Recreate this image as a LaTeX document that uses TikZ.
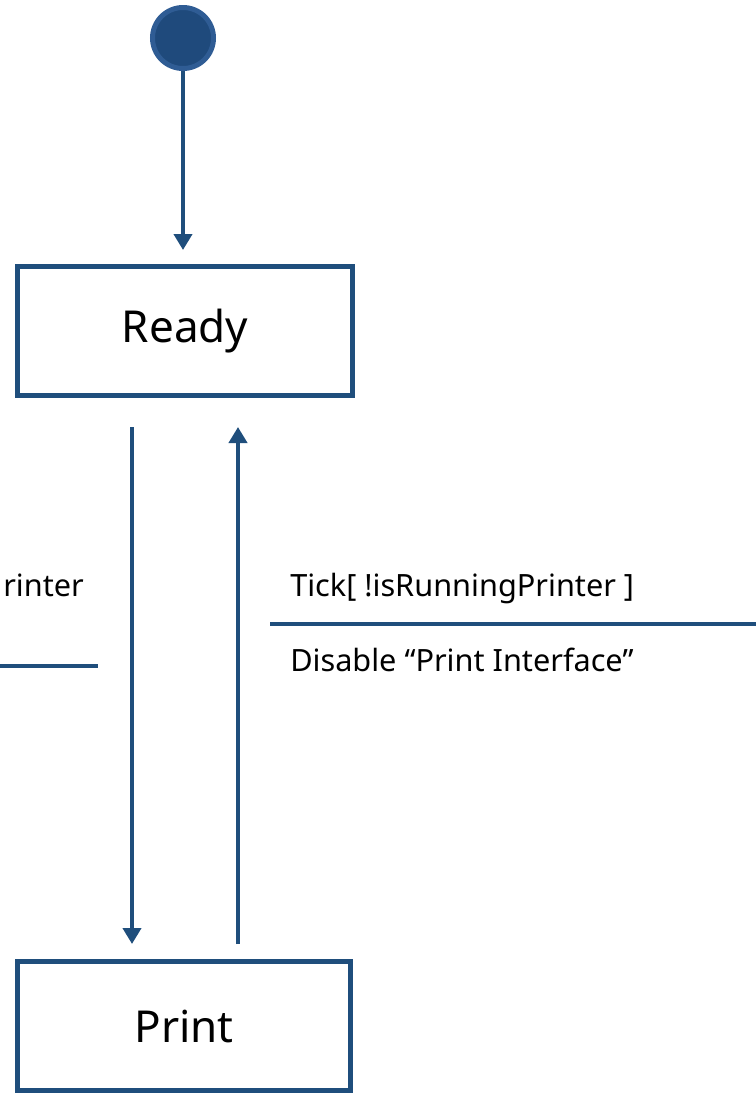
\documentclass[tikz,border=0pt]{standalone}
\usepackage{fontspec}
\setmainfont{Noto Sans}
\usetikzlibrary{arrows.meta}
\definecolor{umlblue}{RGB}{31,78,124}
\definecolor{umlfill}{RGB}{31,74,124}
\definecolor{umlring}{RGB}{47,92,148}

\begin{document}
\begin{tikzpicture}[x=0.75pt, y=-0.75pt,
    every node/.style={font=\fontsize{23}{28}\selectfont, inner sep=0pt},
    state/.style={draw=umlblue, line width=3.5pt, minimum width=251pt, minimum height=97pt, font=\fontsize{33}{40}\selectfont},
    trans/.style={umlblue, line width=3.2pt, -{Triangle[width=13.5pt,length=12pt]}},
    guard/.style={umlblue, line width=3.2pt}]
  \useasboundingbox (0,0) rectangle (756,1093);

  % Initial state and the two states
  \node[circle, fill=umlfill, draw=umlring, line width=3.75pt, minimum size=45.75pt] (init) at (183,38) {};
  \node[state] (ready) at (185,331) {Ready};
  \node[state, minimum width=249.5pt] (print) at (184,1026) {Print};

  % Transitions
  \draw[trans, shorten >=10.5pt] (init) -- (init |- ready.north);
  \draw[trans, shorten <=21.75pt, shorten >=11.25pt] ([xshift=-39.75pt]ready.south) -- ([xshift=-39.75pt]ready.south |- print.north);
  \draw[trans, shorten <=11.25pt, shorten >=21.75pt] ([xshift=39.75pt]ready.south |- print.north) -- ([xshift=39.75pt]ready.south);

  % Guard / action labels
  \coordinate (leftend) at (0,666);
  \coordinate (rightend) at (756,624);
  \draw[guard] (leftend) -- ++(98,0);
  \draw[guard] (rightend) -- ++(-486,0);
  \node[anchor=base west] (leftguard) at (3,596) {rinter};
  \node[anchor=base west] (rightguard) at (290,596) {Tick[ !isRunningPrinter ]};
  \node[anchor=base west] (rightaction) at (290,671) {Disable “Print Interface”};
\end{tikzpicture}
\end{document}
